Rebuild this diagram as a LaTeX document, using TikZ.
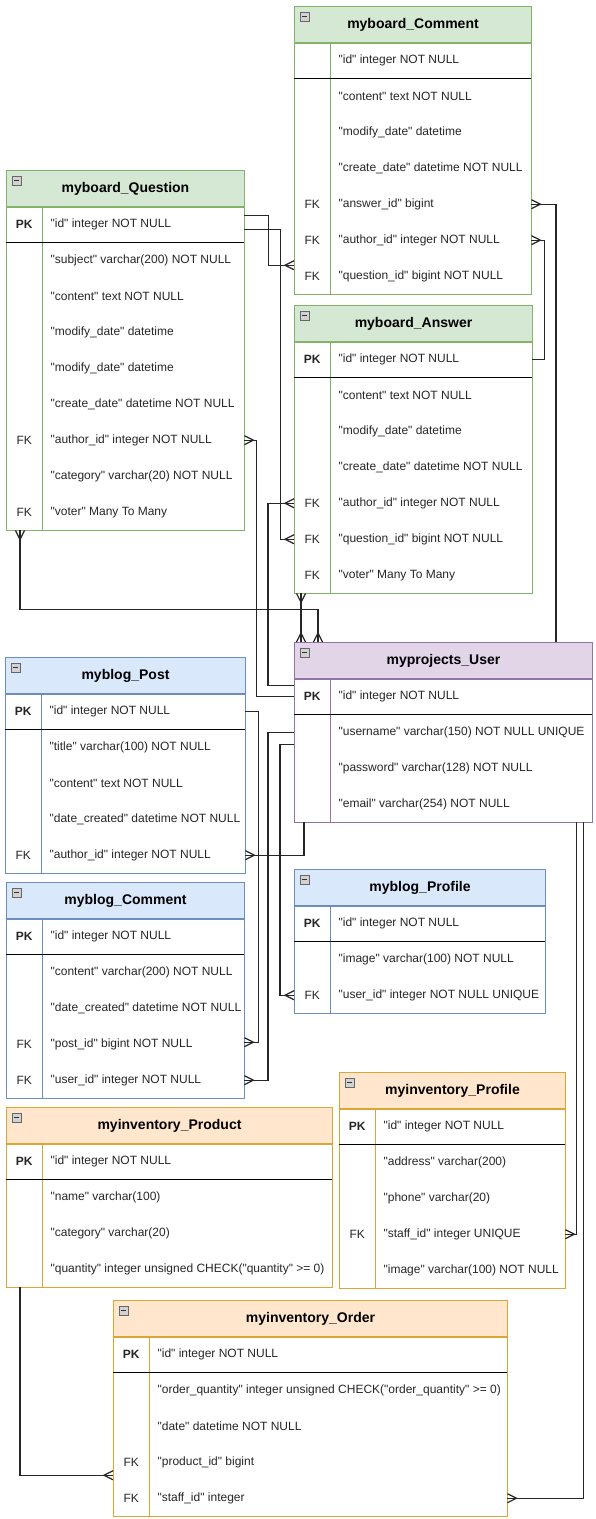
\documentclass[tikz,border=0pt]{standalone}
\usepackage{fontspec}
\setmainfont{Liberation Sans}[Ligatures=TeXOff]
\usepackage{xcolor}
\usepackage{tikz}
\usetikzlibrary{arrows.meta, positioning}

\definecolor{greenfill}{HTML}{D5E8D4}
\definecolor{greenline}{HTML}{82B366}
\definecolor{bluefill}{HTML}{DAE8FC}
\definecolor{blueline}{HTML}{6C8EBF}
\definecolor{purplefill}{HTML}{E1D5E7}
\definecolor{purpleline}{HTML}{9673A6}
\definecolor{orangefill}{HTML}{FFE6CC}
\definecolor{orangeline}{HTML}{DBA633}

% crow's foot: prongs on the table edge, apex away from it
\pgfdeclarearrow{
  name = Crow,
  parameters = {\the\pgfarrowlength,\the\pgfarrowwidth},
  setup code = {
    \pgfarrowssettipend{0pt}
    \pgfarrowssetlineend{0pt}
    \pgfarrowssetbackend{-\pgfarrowlength}
    \pgfarrowshullpoint{0pt}{.5\pgfarrowwidth}
    \pgfarrowshullpoint{0pt}{-.5\pgfarrowwidth}
    \pgfarrowshullpoint{-\pgfarrowlength}{0pt}
    \pgfarrowssavethe\pgfarrowlength
    \pgfarrowssavethe\pgfarrowwidth
  },
  drawing code = {
    \pgfsetdash{}{+0pt}
    \pgfpathmoveto{\pgfqpoint{0pt}{.5\pgfarrowwidth}}
    \pgfpathlineto{\pgfqpoint{-\pgfarrowlength}{0pt}}
    \pgfpathlineto{\pgfqpoint{0pt}{-.5\pgfarrowwidth}}
    \pgfusepathqstroke
  },
  defaults = {length = 9pt, width = 9pt}
}

\tikzset{
  tablehead/.style={rectangle, fill=#1fill, draw=#1line, line width=1pt,
                    minimum height=36pt, inner sep=0pt,
                    font=\fontsize{14}{16}\selectfont\bfseries},
  tablerow/.style={rectangle, minimum height=36pt, inner sep=0pt},
  keycell/.style={rectangle, minimum width=36pt, minimum height=36pt,
                  inner sep=0pt, text=black!85, font=\fontsize{12}{14}\selectfont},
  fieldcell/.style={rectangle, inner sep=0pt, text=black!85,
                    font=\fontsize{12}{14}\selectfont},
  minusbox/.style={rectangle, minimum size=9pt, inner sep=0pt, fill=gray!35,
                   draw=gray!80!black, line width=0.6pt,
                   path picture={\draw[black!80, line width=0.9pt]
                     ([xshift=2pt]path picture bounding box.west) --
                     ([xshift=-2pt]path picture bounding box.east);}},
  sepline/.style={draw=black, line width=1.3pt},
  link/.style={draw=black!85, line width=1.2pt},
  manyend/.style={link, -Crow},
  manystart/.style={link, Crow-},
  manyboth/.style={link, Crow-Crow},
}

% #1 name, #2 top left, #3 width, #4 colour, #5 title, #6 rows, #7 key/field list
\newcommand{\erdtable}[7]{%
  \node[tablehead=#4, minimum width=#3, anchor=north west] (#1) at (#2) {#5};
  \node[minusbox] (#1-minus) at ([xshift=10.5pt, yshift=-10.5pt]#1.north west) {};
  \foreach \key/\field [count=\i] in {#7} {
    \node[tablerow, minimum width=#3, anchor=north west] (#1-\i)
      at ([yshift={-36*\i}]#1.north west) {};
    \node[keycell, anchor=west] (#1-\i-key) at (#1-\i.west) {\key};
    \node[fieldcell, right=8pt of #1-\i-key] (#1-\i-field) {\field};
  }
  \draw[#4line, line width=1pt] (#1.south west) rectangle (#1-#6.south east);
  \draw[#4line, line width=1pt] ([xshift=36pt]#1.south west) -- ([xshift=36pt]#1-#6.south west);
  \draw[sepline] (#1-1.south west) -- (#1-1.south east);
}

\begin{document}
\begin{tikzpicture}[x=1pt, y=-1pt]

  \useasboundingbox (0,0) rectangle (595,1519);

  % --- myboard ---
  \erdtable{bcomment}{294,6}{237pt}{green}{myboard\_Comment}{7}{
    {}/"id" integer NOT NULL,
    {}/"content" text NOT NULL,
    {}/"modify\_date" datetime,
    {}/"create\_date" datetime NOT NULL,
    FK/"answer\_id" bigint,
    FK/"author\_id" integer NOT NULL,
    FK/"question\_id" bigint NOT NULL}

  \erdtable{bquestion}{6,170}{238pt}{green}{myboard\_Question}{9}{
    \textbf{PK}/"id" integer NOT NULL,
    {}/"subject" varchar(200) NOT NULL,
    {}/"content" text NOT NULL,
    {}/"modify\_date" datetime,
    {}/"modify\_date" datetime,
    {}/"create\_date" datetime NOT NULL,
    FK/"author\_id" integer NOT NULL,
    {}/"category" varchar(20) NOT NULL,
    FK/"voter" Many To Many}

  \erdtable{banswer}{294,305}{238pt}{green}{myboard\_Answer}{7}{
    \textbf{PK}/"id" integer NOT NULL,
    {}/"content" text NOT NULL,
    {}/"modify\_date" datetime,
    {}/"create\_date" datetime NOT NULL,
    FK/"author\_id" integer NOT NULL,
    FK/"question\_id" bigint NOT NULL,
    FK/"voter" Many To Many}

  % --- myprojects ---
  \erdtable{user}{294,642}{298pt}{purple}{myprojects\_User}{4}{
    \textbf{PK}/"id" integer NOT NULL,
    {}/"username" varchar(150) NOT NULL UNIQUE,
    {}/"password" varchar(128) NOT NULL,
    {}/"email" varchar(254) NOT NULL}

  % --- myblog ---
  \erdtable{post}{5,657}{240pt}{blue}{myblog\_Post}{5}{
    \textbf{PK}/"id" integer NOT NULL,
    {}/"title" varchar(100) NOT NULL,
    {}/"content" text NOT NULL,
    {}/"date\_created" datetime NOT NULL,
    FK/"author\_id" integer NOT NULL}

  \erdtable{blogcomment}{6,882}{238pt}{blue}{myblog\_Comment}{5}{
    \textbf{PK}/"id" integer NOT NULL,
    {}/"content" varchar(200) NOT NULL,
    {}/"date\_created" datetime NOT NULL,
    FK/"post\_id" bigint NOT NULL,
    FK/"user\_id" integer NOT NULL}

  \erdtable{blogprofile}{294,869}{251pt}{blue}{myblog\_Profile}{3}{
    \textbf{PK}/"id" integer NOT NULL,
    {}/"image" varchar(100) NOT NULL,
    FK/"user\_id" integer NOT NULL UNIQUE}

  % --- myinventory ---
  \erdtable{product}{6,1107}{326pt}{orange}{myinventory\_Product}{4}{
    \textbf{PK}/"id" integer NOT NULL,
    {}/"name" varchar(100),
    {}/"category" varchar(20),
    {}/"quantity" integer unsigned CHECK("quantity" >= 0)}

  \erdtable{invprofile}{339,1072}{226pt}{orange}{myinventory\_Profile}{5}{
    \textbf{PK}/"id" integer NOT NULL,
    {}/"address" varchar(200),
    {}/"phone" varchar(20),
    FK/"staff\_id" integer UNIQUE,
    {}/"image" varchar(100) NOT NULL}

  \erdtable{order}{113,1300}{394pt}{orange}{myinventory\_Order}{5}{
    \textbf{PK}/"id" integer NOT NULL,
    {}/"order\_quantity" integer unsigned CHECK("order\_quantity" >= 0),
    {}/"date" datetime NOT NULL,
    FK/"product\_id" bigint,
    FK/"staff\_id" integer}

  % --- Relations ---
  \draw[manyend] ([yshift=9pt]bquestion-1.east) -- ++(24,0) |- ([yshift=11pt]bcomment-7.west);
  \draw[manyend] ([yshift=-5pt]bquestion-1.east) -- ++(36,0) |- (banswer-6.west);
  \draw[manystart] (bquestion-7.east) -- ++(12,0) |- (user-1.west);
  \draw[manystart] (banswer-5.west) -- ++(-26,0) |- ([yshift=11pt]user-1.west);
  \draw[manyboth] ([xshift=7pt]banswer-7.south west) -- ([xshift=7pt]user.north west);
  \draw[manyboth] ([xshift=14pt]bquestion-9.south west) -- ++(0,79) -| ([xshift=24pt]user.north west);
  \draw[manystart] (bcomment-5.east) -- ++(24,0) -| ([xshift=-37pt]user.north east);
  \draw[manystart] (bcomment-6.east) -- ++(13,0) |- (banswer-1.east);
  \draw[manyend] (post-1.east) -- ++(13,0) |- ([yshift=2pt]blogcomment-4.east);
  \draw[manyend] (user-2.west) -- ++(-26,0) |- (blogcomment-5.east);
  \draw[manyend] ([yshift=-12pt]user-2.west) -- ++(-14,0) |- (blogprofile-3.west);
  \draw[manyend] ([xshift=10pt]user-4.south west) |- (post-5.east);
  \draw[manyend] ([xshift=-16pt]user-4.south east) |- (invprofile-4.east);
  \draw[manyend] ([xshift=-9pt]user-4.south east) |- (order-5.east);
  \draw[manyend] ([xshift=14pt]product-4.south west) |- ([yshift=-13pt]order-4.west);

\end{tikzpicture}
\end{document}
